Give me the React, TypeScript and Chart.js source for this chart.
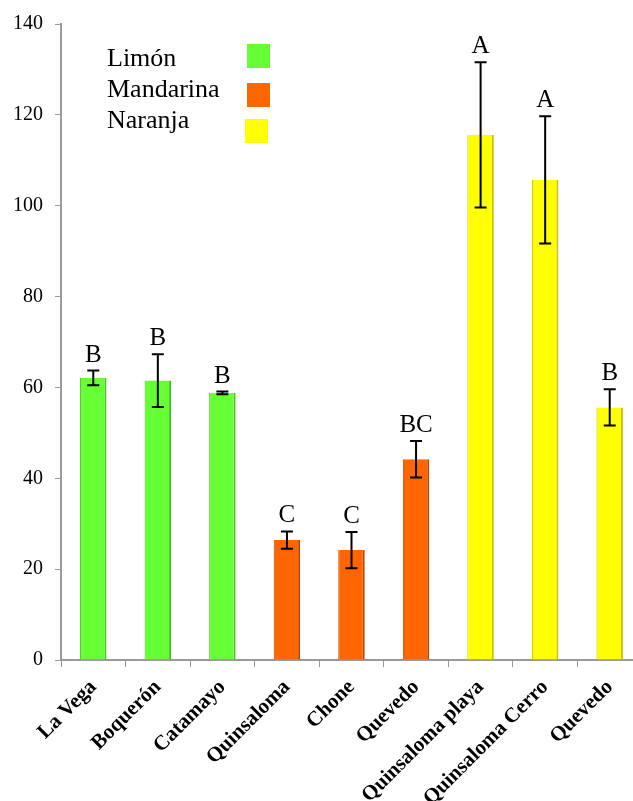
import React, { useEffect, useRef } from "react";
import { Chart, registerables } from "chart.js";

Chart.register(...registerables);

const categories = [
  "La Vega",
  "Boquerón",
  "Catamayo",
  "Quinsaloma",
  "Chone",
  "Quevedo",
  "Quinsaloma playa",
  "Quinsaloma Cerro",
  "Quevedo",
];
const values = [62.1, 61.5, 58.8, 26.4, 24.2, 44.2, 115.6, 105.7, 55.6];
const errors = [1.6, 5.8, 0.3, 1.9, 4.0, 4.0, 16.0, 14.0, 4.0];
const letters = ["B", "B", "B", "C", "C", "BC", "A", "A", "B"];
const groupOf = [0, 0, 0, 1, 1, 1, 2, 2, 2];
const groupNames = ["Limón", "Mandarina", "Naranja"];
const groupColors = ["#66ff33", "#ff6600", "#ffff00"];
const groupEdges = ["#45c41f", "#b84400", "#c9c200"];
const yTicks = [0, 20, 40, 60, 80, 100, 120, 140];

const SERIF = "'Liberation Serif', 'Times New Roman', serif";

const extrasPlugin = {
  id: "extras",
  afterDatasetsDraw(chart: any) {
    const ctx = chart.ctx;
    const meta = chart.getDatasetMeta(0);
    const ys = chart.scales.y;
    ctx.save();
    meta.data.forEach((bar: any, i: number) => {
      const x = bar.x;
      const top = ys.getPixelForValue(values[i] + errors[i]);
      const bot = ys.getPixelForValue(values[i] - errors[i]);
      ctx.strokeStyle = "#000";
      ctx.lineWidth = 2;
      ctx.beginPath();
      ctx.moveTo(x, top);
      ctx.lineTo(x, bot);
      ctx.moveTo(x - 6, top);
      ctx.lineTo(x + 6, top);
      ctx.moveTo(x - 6, bot);
      ctx.lineTo(x + 6, bot);
      ctx.stroke();
      ctx.fillStyle = "#000";
      ctx.font = `25px ${SERIF}`;
      ctx.textAlign = "center";
      ctx.textBaseline = "alphabetic";
      ctx.fillText(letters[i], x, top - 9);
    });
    // legend
    ctx.font = `26px ${SERIF}`;
    ctx.textAlign = "left";
    const baselines = [66, 97, 128];
    const boxTops = [44, 83, 119];
    const boxLefts = [247, 247, 245];
    groupNames.forEach((name, g) => {
      ctx.fillStyle = "#000";
      ctx.fillText(name, 107, baselines[g]);
      ctx.fillStyle = groupColors[g];
      ctx.fillRect(boxLefts[g], boxTops[g], 23, 24);
    });
    ctx.restore();
  },
};

export default function App() {
  const ref = useRef<HTMLCanvasElement | null>(null);
  useEffect(() => {
    if (!ref.current) return;
    const chart = new Chart(ref.current, {
      type: "bar",
      data: {
        labels: categories,
        datasets: [
          {
            data: values,
            backgroundColor: groupOf.map((g) => groupColors[g]),
            borderColor: groupOf.map((g) => groupEdges[g]),
            borderWidth: { left: 1, right: 2, top: 0, bottom: 0 } as any,
            borderSkipped: false,
            barPercentage: 0.41,
            categoryPercentage: 1,
          },
        ],
      },
      options: {
        responsive: false,
        animation: false,
        layout: { padding: { top: 24, right: 8, left: 0, bottom: 0 } },
        plugins: { legend: { display: false }, tooltip: { enabled: false } },
        scales: {
          x: {
            offset: true,
            grid: {
              offset: true,
              drawOnChartArea: false,
              drawTicks: true,
              tickLength: 7,
              color: "#999999",
            },
            border: { color: "#999999", width: 2 },
            ticks: {
              color: "#000",
              font: { family: SERIF, size: 21, weight: "bold" },
              maxRotation: 45,
              minRotation: 45,
              padding: 8,
              autoSkip: false,
            },
            afterFit: (s: any) => {
              s.height = 141;
            },
          },
          y: {
            min: 0,
            max: 140,
            afterBuildTicks: (s: any) => {
              s.ticks = yTicks.map((v) => ({ value: v }));
            },
            grid: {
              drawOnChartArea: false,
              drawTicks: true,
              tickLength: 6,
              color: "#999999",
            },
            border: { color: "#999999", width: 2 },
            ticks: {
              color: "#000",
              font: { family: SERIF, size: 20 },
              padding: 12,
            },
            afterFit: (s: any) => {
              s.width = 61;
            },
          },
        },
      },
      plugins: [extrasPlugin],
    });
    return () => chart.destroy();
  }, []);
  return (
    <div
      style={{
        position: "fixed",
        left: 0,
        top: 0,
        width: 633,
        height: 801,
        overflow: "hidden",
        background: "#fff",
      }}
    >
      <canvas ref={ref} width={650} height={801} style={{ width: 650, height: 801 }} />
    </div>
  );
}
